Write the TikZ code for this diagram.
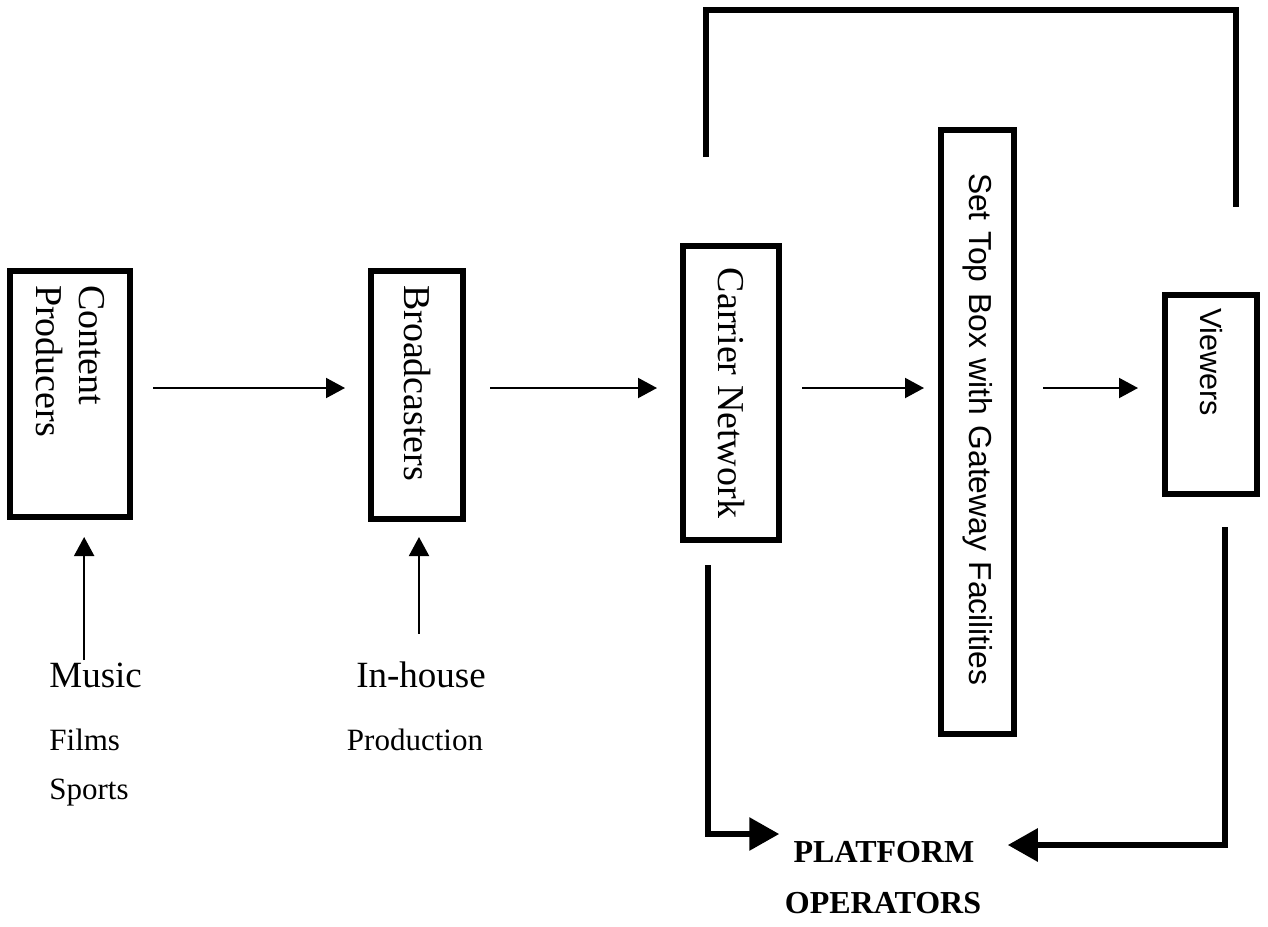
\documentclass[tikz,border=0pt]{standalone}
\usepackage{fontspec}
\setmainfont{Liberation Serif}
\newfontfamily\arialf{Liberation Sans}
\usetikzlibrary{arrows.meta,positioning}

\begin{document}
\begin{tikzpicture}[x=0.5pt,y=-0.5pt,>={Triangle[length=9.5pt,width=10pt]},line join=miter]
  \tikzstyle{block}=[draw,line width=3pt,rotate=-90,inner sep=0pt,font=\fontsize{19}{21.5}\selectfont]
  \tikzstyle{flow}=[->,line width=1pt]
  \tikzstyle{feed}=[line width=3pt]
  \tikzstyle{bigarrow}=[-{Triangle[length=15pt,width=16pt]},line width=3pt]
  \tikzstyle{big}=[inner sep=0pt,font=\fontsize{18.5}{20}\selectfont]
  \tikzstyle{small}=[inner sep=0pt,font=\fontsize{15.5}{18}\selectfont]
  \tikzstyle{oper}=[inner sep=0pt,font=\fontsize{16}{18}\selectfont\bfseries]

  \useasboundingbox (0,0) rectangle (1268,926);

  % boxes
  \node[block,minimum width=123pt,minimum height=60pt,inner xsep=7pt,text width=109pt,align=left] (cp) at (70,394) {Content\\Producers};
  \node[block,minimum width=124pt,minimum height=46pt,inner xsep=7pt,text width=110pt,align=left] (bc) at (417,395) {Broadcasters};
  \node[block,minimum width=147pt,minimum height=48pt] (cn) at (731,393) {Carrier Network};
  \node[block,minimum width=302pt,minimum height=36.5pt,inner xsep=21.5pt,text width=259pt,align=left,font=\arialf\fontsize{15.9}{18}\selectfont] (stb) at (977.5,432) {Set Top Box with Gateway Facilities};
  \node[block,minimum width=99.5pt,minimum height=46pt,inner xsep=6.5pt,text width=86.5pt,align=left,font=\arialf\fontsize{15.3}{18}\selectfont] (vw) at (1211,394.5) {Viewers};

  % sources
  \node[big,anchor=west] (music) at (49,675) {Music};
  \node[small,anchor=west] (films) at (49,740) {Films};
  \node[small,anchor=west] (sports) at (49,793) {Sports};
  \node[big] (inhouse) at (421,675) {In-house};
  \node[small] (prod) at (415,740) {Production};

  \node[oper] (plat) at (884,852) {PLATFORM};
  \node[oper] (opers) at (883,903) {OPERATORS};

  \coordinate (axis) at (0,388);
  \coordinate (cntop) at (706,157);
  \coordinate (roof) at (1236,10);
  \coordinate (vwtop) at (1236,207);
  \coordinate (cnfoot) at (708,565);
  \coordinate (vwfoot) at (1225,527);

  \draw[flow,shorten <=10pt,shorten >=11.5pt] (cp.north |- axis) -- (bc.south |- axis);
  \draw[flow,shorten <=12pt,shorten >=11.5pt] (bc.north |- axis) -- (cn.south |- axis);
  \draw[flow,shorten <=10pt,shorten >=7pt] (cn.north |- axis) -- (stb.south |- axis);
  \draw[flow,shorten <=13pt,shorten >=12pt] (stb.north |- axis) -- (vw.south |- axis);

  \draw[flow,shorten <=1pt,shorten >=8.5pt] ([xshift=-5.75pt]music.north) -- ([xshift=-5.75pt]music.north |- cp.east);
  \draw[flow,shorten <=14pt,shorten >=7.5pt] ([xshift=-1pt]inhouse.north) -- ([xshift=-1pt]inhouse.north |- bc.east);

  \draw[feed] (cntop) |- (roof) -- (vwtop);
  \draw[bigarrow,shorten >=7pt] (cnfoot) |- ([yshift=9pt]plat.west);
  \draw[bigarrow,shorten >=16.5pt] (vwfoot) |- ([yshift=3.5pt]plat.east);
\end{tikzpicture}
\end{document}
